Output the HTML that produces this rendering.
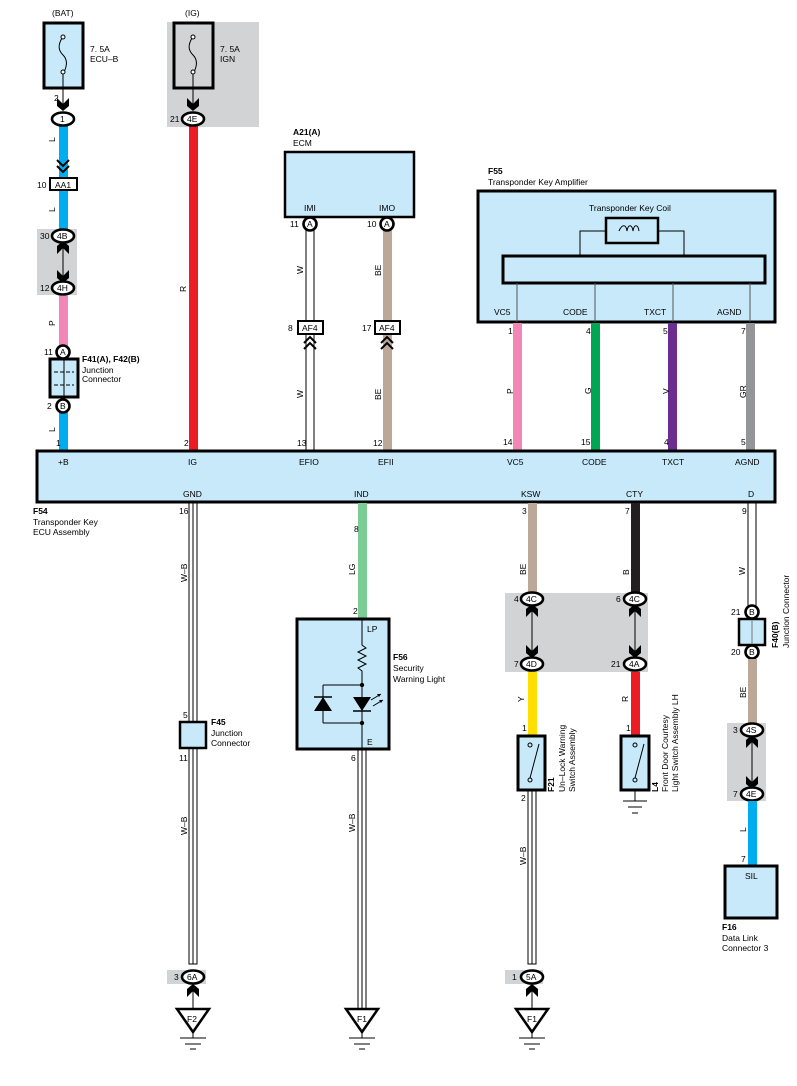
<!DOCTYPE html>
<html><head><meta charset="utf-8"><style>
body{margin:0;background:#fff}
svg{display:block;font-family:"Liberation Sans",sans-serif}
text{font-size:8.5px;fill:#000}
.b{font-weight:bold}
.box{fill:#c8e9f9;stroke:#000;stroke-width:3}
.ov{fill:#fff;stroke:#000;stroke-width:2.6}
.gr{fill:#d2d3d5}
.t{stroke:#000;stroke-width:1;fill:none}
</style></head><body>
<svg width="797" height="1086" viewBox="0 0 797 1086" xmlns="http://www.w3.org/2000/svg">
<defs>
<g id="oval"><ellipse cx="0" cy="0" rx="11" ry="6.5" class="ov"/></g>
<g id="ar"><path d="M-6,-6 L0,0 L6,-6 L6,2 L0,7 L-6,2Z" fill="#000"/></g>
<g id="aru"><path d="M-6,6 L0,0 L6,6 L6,-2 L0,-7 L-6,-2Z" fill="#000"/></g>
<g id="gnd"><path d="M-16,0 H16 L0,23Z" fill="#fff" stroke="#000" stroke-width="2.5"/><line x1="0" y1="23" x2="0" y2="29" class="t"/><line x1="-13" y1="29" x2="13" y2="29" class="t"/><line x1="-8" y1="35" x2="8" y2="35" class="t"/><line x1="-3" y1="40" x2="3" y2="40" class="t"/></g>
</defs>

<!-- gray backgrounds -->
<rect x="167" y="22" width="92" height="105" class="gr"/>
<rect x="37" y="229" width="40" height="66" class="gr"/>
<rect x="505" y="593" width="143" height="79" class="gr"/>
<rect x="727" y="723" width="39" height="78" class="gr"/>
<rect x="167" y="970" width="39" height="14" class="gr"/>
<rect x="505" y="970" width="38" height="14" class="gr"/>

<!-- BAT -->
<text x="52" y="16">(BAT)</text>
<rect x="44" y="23" width="39" height="65" class="box"/>
<path d="M62,38 C58,45 58,50 63,55 C68,60 67,66 64,72" class="t"/>
<circle cx="63" cy="37" r="2" fill="#fff" stroke="#000"/><circle cx="63" cy="72" r="2" fill="#fff" stroke="#000"/>
<text x="90" y="52">7. 5A</text><text x="90" y="62">ECU–B</text>
<line x1="63" y1="74" x2="63" y2="106" class="t"/>
<use href="#ar" x="63" y="104"/>
<text x="54" y="101">2</text>
<rect x="59" y="126" width="9" height="104" fill="#00aeef"/>
<rect x="59" y="296" width="9" height="50" fill="#f287b7"/>
<rect x="59" y="412" width="9" height="39" fill="#00aeef"/>
<use href="#oval" x="63" y="119"/><text x="60" y="122">1</text>
<text x="55" y="142" transform="rotate(-90 55 142)">L</text>
<path d="M57,160 L63,166 L69,160 M57,166 L63,172 L69,166" stroke="#000" stroke-width="2" fill="none"/>
<rect x="50" y="178" width="27" height="12" fill="#fff" stroke="#000" stroke-width="2"/><text x="55" y="188">AA1</text>
<text x="37" y="188">10</text>
<text x="55" y="212" transform="rotate(-90 55 212)">L</text>
<line x1="63" y1="243" x2="63" y2="282" class="t"/>
<use href="#aru" x="63" y="248"/><use href="#ar" x="63" y="276"/>
<use href="#oval" x="63" y="236"/><text x="57" y="239">4B</text><text x="40" y="239">30</text>
<use href="#oval" x="63" y="288"/><text x="57" y="291">4H</text><text x="40" y="291">12</text>
<text x="55" y="326" transform="rotate(-90 55 326)">P</text>
<circle cx="63" cy="352" r="6.5" class="ov"/><text x="60" y="355">A</text><text x="44" y="355">11</text>
<rect x="50" y="359" width="28" height="38" class="box"/>
<path d="M54,372 H74 M54,385 H74" stroke="#000" stroke-dasharray="4 2"/><line x1="64" y1="360" x2="64" y2="396" class="t"/>
<circle cx="63" cy="406" r="6.5" class="ov"/><text x="60" y="409">B</text><text x="47" y="409">2</text>
<text x="82" y="362" class="b">F41(A), F42(B)</text><text x="82" y="373">Junction</text><text x="82" y="382">Connector</text>
<text x="55" y="432" transform="rotate(-90 55 432)">L</text>
<text x="56" y="446">1</text>

<!-- IG -->
<text x="185" y="16">(IG)</text>
<rect x="174" y="23" width="39" height="65" class="box" style="fill:#d2d3d5"/>
<path d="M192,38 C188,45 188,50 193,55 C198,60 197,66 194,72" class="t"/>
<circle cx="193" cy="37" r="2" fill="#fff" stroke="#000"/><circle cx="193" cy="72" r="2" fill="#fff" stroke="#000"/>
<text x="220" y="52">7. 5A</text><text x="220" y="62">IGN</text>
<line x1="193" y1="74" x2="193" y2="106" class="t"/>
<use href="#ar" x="193" y="104"/>
<rect x="189" y="126" width="9" height="324" fill="#ed1c24"/>
<use href="#oval" x="193" y="119"/><text x="187" y="122">4E</text><text x="170" y="122">21</text>
<text x="186" y="292" transform="rotate(-90 186 292)">R</text>
<text x="184" y="446">2</text>

<!-- ECM -->
<text x="293" y="135" class="b">A21(A)</text><text x="293" y="146">ECM</text>
<rect x="285" y="152" width="129" height="65" class="box" style="stroke-width:2.5"/>
<text x="304" y="211">IMI</text><text x="379" y="211">IMO</text>
<rect x="306" y="230" width="8" height="220" fill="#fff" stroke="#000"/>
<rect x="383" y="230" width="9" height="220" fill="#bba898"/>
<circle cx="310" cy="224" r="6.5" class="ov"/><text x="307" y="227">A</text><text x="290" y="227">11</text>
<circle cx="387" cy="224" r="6.5" class="ov"/><text x="384" y="227">A</text><text x="367" y="227">10</text>
<text x="303" y="274" transform="rotate(-90 303 274)">W</text>
<text x="381" y="276" transform="rotate(-90 381 276)">BE</text>
<rect x="298" y="321" width="25" height="13" fill="#fff" stroke="#000" stroke-width="2"/><text x="302" y="331">AF4</text><text x="288" y="331">8</text>
<rect x="375" y="321" width="25" height="13" fill="#fff" stroke="#000" stroke-width="2"/><text x="379" y="331">AF4</text><text x="362" y="331">17</text>
<path d="M304,343 L310,337 L316,343 M304,349 L310,343 L316,349" stroke="#000" stroke-width="2" fill="none"/>
<path d="M381,343 L387,337 L393,343 M381,349 L387,343 L393,349" stroke="#000" stroke-width="2" fill="none"/>
<text x="303" y="398" transform="rotate(-90 303 398)">W</text>
<text x="381" y="400" transform="rotate(-90 381 400)">BE</text>
<text x="297" y="446">13</text><text x="373" y="446">12</text>

<!-- F55 -->
<text x="488" y="174" class="b">F55</text><text x="488" y="185">Transponder Key Amplifier</text>
<rect x="478" y="191" width="297" height="131" class="box"/>
<text x="589" y="211">Transponder Key Coil</text>
<path d="M580,256 V231 H684 V256" class="t"/>
<rect x="606" y="218" width="52" height="25" fill="#c8e9f9" stroke="#000" stroke-width="2.5"/>
<path d="M619,231 C622,224 626,224 627,231 C628,224 632,224 633,231 C634,224 638,224 639,231" class="t"/>
<rect x="503" y="256" width="262" height="27" fill="#c8e9f9" stroke="#000" stroke-width="3"/>
<path d="M517,283 V322 M595,283 V322 M673,283 V322 M750,283 V322" stroke="#555" stroke-width="1"/>
<text x="494" y="315">VC5</text><text x="563" y="315">CODE</text><text x="644" y="315">TXCT</text><text x="717" y="315">AGND</text>
<rect x="513" y="323" width="9" height="127" fill="#f287b7"/>
<rect x="591" y="323" width="9" height="127" fill="#00a651"/>
<rect x="668" y="323" width="9" height="127" fill="#6c2d91"/>
<rect x="746" y="323" width="9" height="127" fill="#939598"/>
<text x="508" y="334">1</text><text x="586" y="334">4</text><text x="663" y="334">5</text><text x="741" y="334">7</text>
<text x="513" y="394" transform="rotate(-90 513 394)">P</text>
<text x="591" y="394" transform="rotate(-90 591 394)">G</text>
<text x="669" y="394" transform="rotate(-90 669 394)">V</text>
<text x="746" y="398" transform="rotate(-90 746 398)">GR</text>
<text x="503" y="445">14</text><text x="581" y="445">15</text><text x="664" y="445">4</text><text x="741" y="445">5</text>

<!-- ECU -->
<rect x="37" y="451" width="738" height="51" class="box"/>
<text x="58" y="465">+B</text><text x="188" y="465">IG</text><text x="299" y="465">EFIO</text><text x="378" y="465">EFII</text>
<text x="507" y="465">VC5</text><text x="582" y="465">CODE</text><text x="662" y="465">TXCT</text><text x="735" y="465">AGND</text>
<text x="183" y="497">GND</text><text x="354" y="497">IND</text><text x="521" y="497">KSW</text><text x="626" y="497">CTY</text><text x="748" y="497">D</text>
<text x="33" y="514" class="b">F54</text><text x="33" y="525">Transponder Key</text><text x="33" y="535">ECU Assembly</text>

<!-- GND W-B -->
<rect x="189" y="503" width="8" height="219" fill="#fff" stroke="#000"/><line x1="193" y1="503" x2="193" y2="722" class="t"/>
<rect x="189" y="748" width="8" height="216" fill="#fff" stroke="#000"/><line x1="193" y1="748" x2="193" y2="964" class="t"/>
<text x="179" y="514">16</text>
<text x="187" y="582" transform="rotate(-90 187 582)">W–B</text>
<rect x="180" y="722" width="26" height="26" class="box" style="stroke-width:2.5"/>
<text x="183" y="718">5</text><text x="179" y="761">11</text>
<text x="211" y="725" class="b">F45</text><text x="211" y="736">Junction</text><text x="211" y="746">Connector</text>
<text x="187" y="835" transform="rotate(-90 187 835)">W–B</text>
<use href="#oval" x="193" y="977"/><text x="187" y="980">6A</text><text x="174" y="980">3</text>
<line x1="193" y1="986" x2="193" y2="1009" class="t"/><use href="#aru" x="193" y="991"/>
<use href="#gnd" x="193" y="1009"/><text x="187" y="1022">F2</text>

<!-- IND -->
<rect x="358" y="503" width="9" height="115" fill="#7dcb95"/>
<text x="355" y="575" transform="rotate(-90 355 575)">LG</text>
<text x="353" y="614">2</text><text x="354" y="532">8</text>
<rect x="297" y="619" width="92" height="130" class="box"/>
<text x="367" y="632">LP</text><text x="367" y="745">E</text>
<path d="M362,619 V645 l4,3 -8,4 8,4 -8,4 8,4 -8,4 4,3 V749" class="t"/>
<path d="M323,685 H362 M323,723 H362 M323,685 V723" class="t"/>
<circle cx="362" cy="685" r="2.2"/><circle cx="362" cy="723" r="2.2"/>
<path d="M314,711 L323,697 L332,711Z"/><line x1="314" y1="697" x2="332" y2="697" stroke="#000" stroke-width="1.5"/>
<path d="M353,697 L371,697 L362,711Z"/><line x1="353" y1="711" x2="371" y2="711" stroke="#000" stroke-width="1.5"/>
<path d="M371,700 L381,694 M373,706 L383,700" stroke="#000"/>
<path d="M381,694 l-4,0 2,3z M383,700 l-4,0 2,3z"/>
<text x="393" y="660" class="b">F56</text><text x="393" y="671">Security</text><text x="393" y="682">Warning Light</text>
<rect x="358" y="750" width="8" height="260" fill="#fff" stroke="#000"/><line x1="362" y1="750" x2="362" y2="1010" class="t"/>
<text x="351" y="761">6</text>
<text x="355" y="832" transform="rotate(-90 355 832)">W–B</text>
<use href="#gnd" x="362" y="1009"/><text x="357" y="1022">F1</text>

<!-- KSW -->
<rect x="528" y="503" width="9" height="90" fill="#bba898"/>
<text x="526" y="575" transform="rotate(-90 526 575)">BE</text><text x="522" y="514">3</text>
<line x1="532" y1="606" x2="532" y2="657" class="t"/><use href="#aru" x="532" y="611"/><use href="#ar" x="532" y="651"/>
<use href="#oval" x="532" y="599"/><text x="526" y="602">4C</text><text x="514" y="602">4</text>
<use href="#oval" x="532" y="664"/><text x="526" y="667">4D</text><text x="514" y="667">7</text>
<rect x="528" y="672" width="9" height="64" fill="#ffde00"/>
<text x="524" y="702" transform="rotate(-90 524 702)">Y</text><text x="522" y="731">1</text>
<rect x="518" y="736" width="27" height="54" class="box"/>
<circle cx="530" cy="745" r="2" fill="none" stroke="#000"/><circle cx="530" cy="780" r="2" fill="none" stroke="#000"/>
<line x1="530" y1="778" x2="539" y2="744" class="t"/>
<text x="554" y="792" class="b" transform="rotate(-90 554 792)">F21</text>
<text x="565" y="792" transform="rotate(-90 565 792)">Un–Lock Warning</text>
<text x="575" y="792" transform="rotate(-90 575 792)">Switch Assembly</text>
<rect x="528" y="791" width="8" height="173" fill="#fff" stroke="#000"/><line x1="532" y1="791" x2="532" y2="964" class="t"/>
<text x="521" y="801">2</text>
<text x="526" y="865" transform="rotate(-90 526 865)">W–B</text>
<use href="#oval" x="532" y="977"/><text x="526" y="980">5A</text><text x="512" y="980">1</text>
<line x1="532" y1="986" x2="532" y2="1009" class="t"/><use href="#aru" x="532" y="991"/>
<use href="#gnd" x="532" y="1009"/><text x="527" y="1022">F1</text>

<!-- CTY -->
<rect x="631" y="503" width="9" height="90" fill="#231f20"/>
<text x="629" y="575" transform="rotate(-90 629 575)">B</text><text x="625" y="514">7</text>
<line x1="635" y1="606" x2="635" y2="657" class="t"/><use href="#aru" x="635" y="611"/><use href="#ar" x="635" y="651"/>
<use href="#oval" x="635" y="599"/><text x="629" y="602">4C</text><text x="616" y="602">6</text>
<use href="#oval" x="635" y="664"/><text x="629" y="667">4A</text><text x="611" y="667">21</text>
<rect x="631" y="672" width="9" height="64" fill="#ed1c24"/>
<text x="628" y="702" transform="rotate(-90 628 702)">R</text><text x="626" y="731">1</text>
<rect x="621" y="736" width="28" height="54" class="box"/>
<circle cx="635" cy="745" r="2" fill="none" stroke="#000"/><circle cx="635" cy="780" r="2" fill="none" stroke="#000"/>
<line x1="635" y1="778" x2="644" y2="744" class="t"/>
<line x1="635" y1="790" x2="635" y2="801" class="t"/>
<line x1="623" y1="801" x2="647" y2="801" class="t"/><line x1="628" y1="807" x2="642" y2="807" class="t"/><line x1="632" y1="813" x2="638" y2="813" class="t"/>
<text x="658" y="792" class="b" transform="rotate(-90 658 792)">L4</text>
<text x="668" y="792" transform="rotate(-90 668 792)">Front Door Courtesy</text>
<text x="678" y="792" transform="rotate(-90 678 792)">Light Switch Assembly LH</text>

<!-- D -->
<rect x="748" y="503" width="8" height="103" fill="#fff" stroke="#000"/>
<text x="745" y="575" transform="rotate(-90 745 575)">W</text><text x="742" y="514">9</text>
<circle cx="752" cy="612" r="6.5" class="ov"/><text x="749" y="615">B</text><text x="731" y="615">21</text>
<rect x="739" y="619" width="26" height="26" class="box" style="stroke-width:2.5"/><line x1="752" y1="620" x2="752" y2="644" stroke="#777"/>
<circle cx="752" cy="652" r="6.5" class="ov"/><text x="749" y="655">B</text><text x="731" y="655">20</text>
<text x="778" y="648" class="b" transform="rotate(-90 778 648)">F40(B)</text>
<text x="789" y="648" transform="rotate(-90 789 648)">Junction Connector</text>
<rect x="748" y="659" width="9" height="65" fill="#bba898"/>
<text x="746" y="698" transform="rotate(-90 746 698)">BE</text>
<line x1="752" y1="736" x2="752" y2="788" class="t"/><use href="#aru" x="752" y="742"/><use href="#ar" x="752" y="782"/>
<use href="#oval" x="752" y="730"/><text x="746" y="733">4S</text><text x="733" y="733">3</text>
<use href="#oval" x="752" y="794"/><text x="746" y="797">4E</text><text x="733" y="797">7</text>
<rect x="748" y="801" width="9" height="65" fill="#00aeef"/>
<text x="746" y="832" transform="rotate(-90 746 832)">L</text><text x="741" y="862">7</text>
<rect x="725" y="866" width="52" height="52" class="box"/>
<text x="745" y="879">SIL</text>
<text x="722" y="930" class="b">F16</text><text x="722" y="941">Data Link</text><text x="722" y="951">Connector 3</text>
</svg>
</body></html>
